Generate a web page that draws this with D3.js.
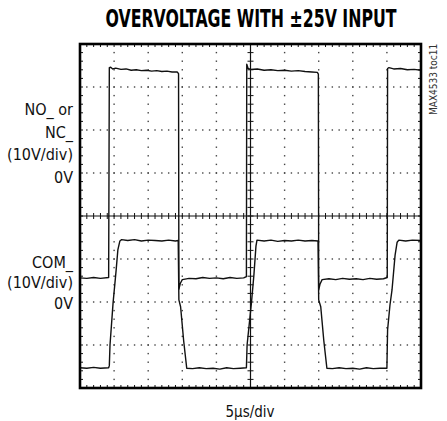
<!DOCTYPE html>
<html>
<head>
<meta charset="utf-8">
<script src="https://cdn.jsdelivr.net/npm/d3@7"></script>
<style>
  body { margin: 0; background: #fff; }
  text { font-family: 'Liberation Sans Narrow', 'DejaVu Sans Condensed', sans-serif; fill: #111; }
</style>
</head>
<body>
<svg id="chart" width="447" height="421"></svg>
<script>
// time in divisions (5us/div), voltage in volts (10V/div)
var noTrace = [
    [0.00, -24.4], [0.20, -24.5], [0.40, -24.3], [0.60, -24.5], [0.84, -24.3],
    [0.86, 24.5], [0.90, 24.6], [0.96, 24.2], [1.05, 24.4], [1.20, 24.1], [1.35, 24.2],
    [1.50, 23.9], [1.65, 24.0], [1.80, 23.8], [1.95, 23.9], [2.10, 23.7], [2.25, 23.8],
    [2.40, 23.6], [2.55, 23.7], [2.70, 23.5], [2.85, 23.5], [2.89, 23.1],
    [2.90, -27.0], [2.94, -25.7], [3.00, -24.8], [3.20, -24.5], [3.40, -24.6], [3.60, -24.3],
    [3.80, -24.5], [4.00, -24.4], [4.20, -24.6], [4.40, -24.3], [4.60, -24.5], [4.80, -24.4],
    [4.88, -24.1],
    [4.89, 25.3], [4.93, 24.3], [5.00, 24.1], [5.20, 24.2], [5.40, 23.9], [5.60, 24.0],
    [5.80, 23.8], [6.00, 23.9], [6.20, 23.7], [6.40, 23.8], [6.60, 23.6], [6.80, 23.5],
    [6.96, 23.4], [6.99, 23.0],
    [7.00, -27.2], [7.04, -25.8], [7.10, -24.8], [7.30, -24.6], [7.50, -24.8], [7.70, -24.5],
    [7.90, -24.7], [8.10, -24.6], [8.30, -24.8], [8.50, -24.5], [8.70, -24.7], [8.90, -24.6],
    [9.01, -24.3],
    [9.02, 24.3], [9.06, 24.5], [9.20, 24.2], [9.40, 24.3], [9.60, 24.0], [9.80, 24.1],
    [10.00, 23.9]
];

var comTrace = [
    [0.00, -15.3], [0.20, -15.4], [0.40, -15.2], [0.60, -15.4], [0.84, -15.3],
    [0.86, -14.8], [0.88, -10.0], [0.97, -0.2], [1.06, 7.4], [1.11, 12.1], [1.17, 14.2],
    [1.22, 14.5], [1.40, 14.3], [1.60, 14.5], [1.80, 14.2], [2.00, 14.4], [2.20, 14.3],
    [2.40, 14.2], [2.60, 14.4], [2.80, 14.2], [2.88, 14.3],
    [2.90, 0.5], [2.95, -1.1], [3.04, -9.0], [3.13, -15.4],
    [3.30, -15.5], [3.50, -15.3], [3.70, -15.5], [3.90, -15.4], [4.10, -15.6], [4.30, -15.3],
    [4.50, -15.5], [4.70, -15.4], [4.88, -15.3],
    [4.90, -10.0], [5.03, 0.0], [5.10, 6.3], [5.16, 13.0], [5.19, 14.4],
    [5.40, 14.2], [5.60, 14.4], [5.80, 14.1], [6.00, 14.3], [6.20, 14.2], [6.40, 14.4],
    [6.60, 14.2], [6.80, 14.3], [6.98, 14.2],
    [7.00, 0.5], [7.06, -1.1], [7.15, -9.0], [7.24, -15.4],
    [7.40, -15.5], [7.60, -15.3], [7.80, -15.5], [8.00, -15.4], [8.20, -15.6], [8.40, -15.3],
    [8.60, -15.5], [8.80, -15.4], [9.00, -15.4],
    [9.02, -6.5], [9.09, -0.7], [9.15, 2.8], [9.24, 10.9], [9.30, 13.9], [9.35, 14.4],
    [9.55, 14.2], [9.75, 14.4], [10.00, 14.3]
];

var noLabels = ['NO_ or', 'NC_', '(10V/div)', '0V'];
var comLabels = ['COM_', '(10V/div)', '0V'];
var titleText = 'OVERVOLTAGE WITH \u00b125V INPUT';
var xLabel = '5\u03bcs/div';
var tocText = 'MAX4533 toc11';

var svg = d3.select('#chart');

var x = d3.scaleLinear().domain([0, 10]).range([80, 421]);
var yDiv = d3.scaleLinear().domain([0, 8]).range([388, 44]);
// NO_ 0V sits 5 div up, COM_ 0V sits 2 div up
var yNo = d3.scaleLinear().domain([-50, 30]).range([388, 44]);
var yCom = d3.scaleLinear().domain([-20, 60]).range([388, 44]);

var grid = svg.append('g');

// dotted graticule
d3.range(1, 10).filter(function(i) { return i !== 5; }).forEach(function(i) {
    grid.selectAll(null)
        .data(d3.range(1, 40))
        .enter().append('rect')
        .attr('x', x(i) - 0.7).attr('y', function(j) { return yDiv(j / 5) - 0.7; })
        .attr('width', 1.4).attr('height', 1.4)
        .attr('fill', '#444');
});
d3.range(1, 8).filter(function(k) { return k !== 4; }).forEach(function(k) {
    grid.selectAll(null)
        .data(d3.range(1, 50))
        .enter().append('rect')
        .attr('x', function(m) { return x(m / 5) - 0.7; }).attr('y', yDiv(k) - 0.7)
        .attr('width', 1.4).attr('height', 1.4)
        .attr('fill', '#444');
});

// center cross with minor ticks
grid.append('line')
    .attr('x1', x(5)).attr('x2', x(5)).attr('y1', yDiv(0)).attr('y2', yDiv(8))
    .attr('stroke', '#111').attr('stroke-width', 1.2);
grid.append('line')
    .attr('x1', x(0)).attr('x2', x(10)).attr('y1', yDiv(4)).attr('y2', yDiv(4))
    .attr('stroke', '#111').attr('stroke-width', 1.2);
grid.selectAll(null)
    .data(d3.range(1, 40))
    .enter().append('line')
    .attr('x1', x(5) - 3).attr('x2', x(5) + 3)
    .attr('y1', function(j) { return yDiv(j / 5); }).attr('y2', function(j) { return yDiv(j / 5); })
    .attr('stroke', '#111').attr('stroke-width', 1);
grid.selectAll(null)
    .data(d3.range(1, 50))
    .enter().append('line')
    .attr('x1', function(m) { return x(m / 5); }).attr('x2', function(m) { return x(m / 5); })
    .attr('y1', yDiv(4) - 3).attr('y2', yDiv(4) + 3)
    .attr('stroke', '#111').attr('stroke-width', 1);

// border ticks
[0, 8].forEach(function(edge) {
    var dir = edge === 0 ? -1 : 1;
    grid.selectAll(null)
        .data(d3.range(1, 50))
        .enter().append('line')
        .attr('x1', function(m) { return x(m / 5); }).attr('x2', function(m) { return x(m / 5); })
        .attr('y1', yDiv(edge)).attr('y2', yDiv(edge) + dir * 3)
        .attr('stroke', '#111').attr('stroke-width', 1);
});
[0, 10].forEach(function(edge) {
    var dir = edge === 0 ? 1 : -1;
    grid.selectAll(null)
        .data(d3.range(1, 40))
        .enter().append('line')
        .attr('x1', x(edge)).attr('x2', x(edge) + dir * 3)
        .attr('y1', function(j) { return yDiv(j / 5); }).attr('y2', function(j) { return yDiv(j / 5); })
        .attr('stroke', '#111').attr('stroke-width', 1);
});

// traces
var noLine = d3.line().x(function(d) { return x(d[0]); }).y(function(d) { return yNo(d[1]); });
var comLine = d3.line().x(function(d) { return x(d[0]); }).y(function(d) { return yCom(d[1]); });

svg.append('path').datum(noTrace)
    .attr('d', noLine)
    .attr('fill', 'none').attr('stroke', '#111').attr('stroke-width', 1.4)
    .attr('stroke-linejoin', 'round');
svg.append('path').datum(comTrace)
    .attr('d', comLine)
    .attr('fill', 'none').attr('stroke', '#111').attr('stroke-width', 1.4)
    .attr('stroke-linejoin', 'round');

// frame
svg.append('rect')
    .attr('x', x(0)).attr('y', yDiv(8))
    .attr('width', x(10) - x(0)).attr('height', yDiv(0) - yDiv(8))
    .attr('fill', 'none').attr('stroke', '#000').attr('stroke-width', 2.6);

// texts (title stretched a bit taller, like the condensed original)
svg.append('text')
    .attr('transform', 'translate(251,26.5) scale(1,1.2)')
    .attr('text-anchor', 'middle')
    .attr('font-size', 20).attr('font-weight', 'bold')
    .attr('textLength', 291).attr('lengthAdjust', 'spacingAndGlyphs')
    .style('fill', '#000')
    .text(titleText);

svg.selectAll('.nolab')
    .data(noLabels)
    .enter().append('text')
    .attr('class', 'nolab')
    .attr('x', 73).attr('y', function(d, i) { return 115 + i * 22.5; })
    .attr('text-anchor', 'end').attr('font-size', 16)
    .text(function(d) { return d; });

svg.selectAll('.comlab')
    .data(comLabels)
    .enter().append('text')
    .attr('class', 'comlab')
    .attr('x', 73).attr('y', function(d, i) { return 267.5 + i * 20.5; })
    .attr('text-anchor', 'end').attr('font-size', 16)
    .text(function(d) { return d; });

svg.append('text')
    .attr('x', 250).attr('y', 417)
    .attr('text-anchor', 'middle').attr('font-size', 15)
    .text(xLabel);

svg.append('text')
    .attr('transform', 'translate(437,115) rotate(-90)')
    .attr('font-size', 10)
    .style('fill', '#333')
    .text(tocText);
</script>
</body>
</html>
